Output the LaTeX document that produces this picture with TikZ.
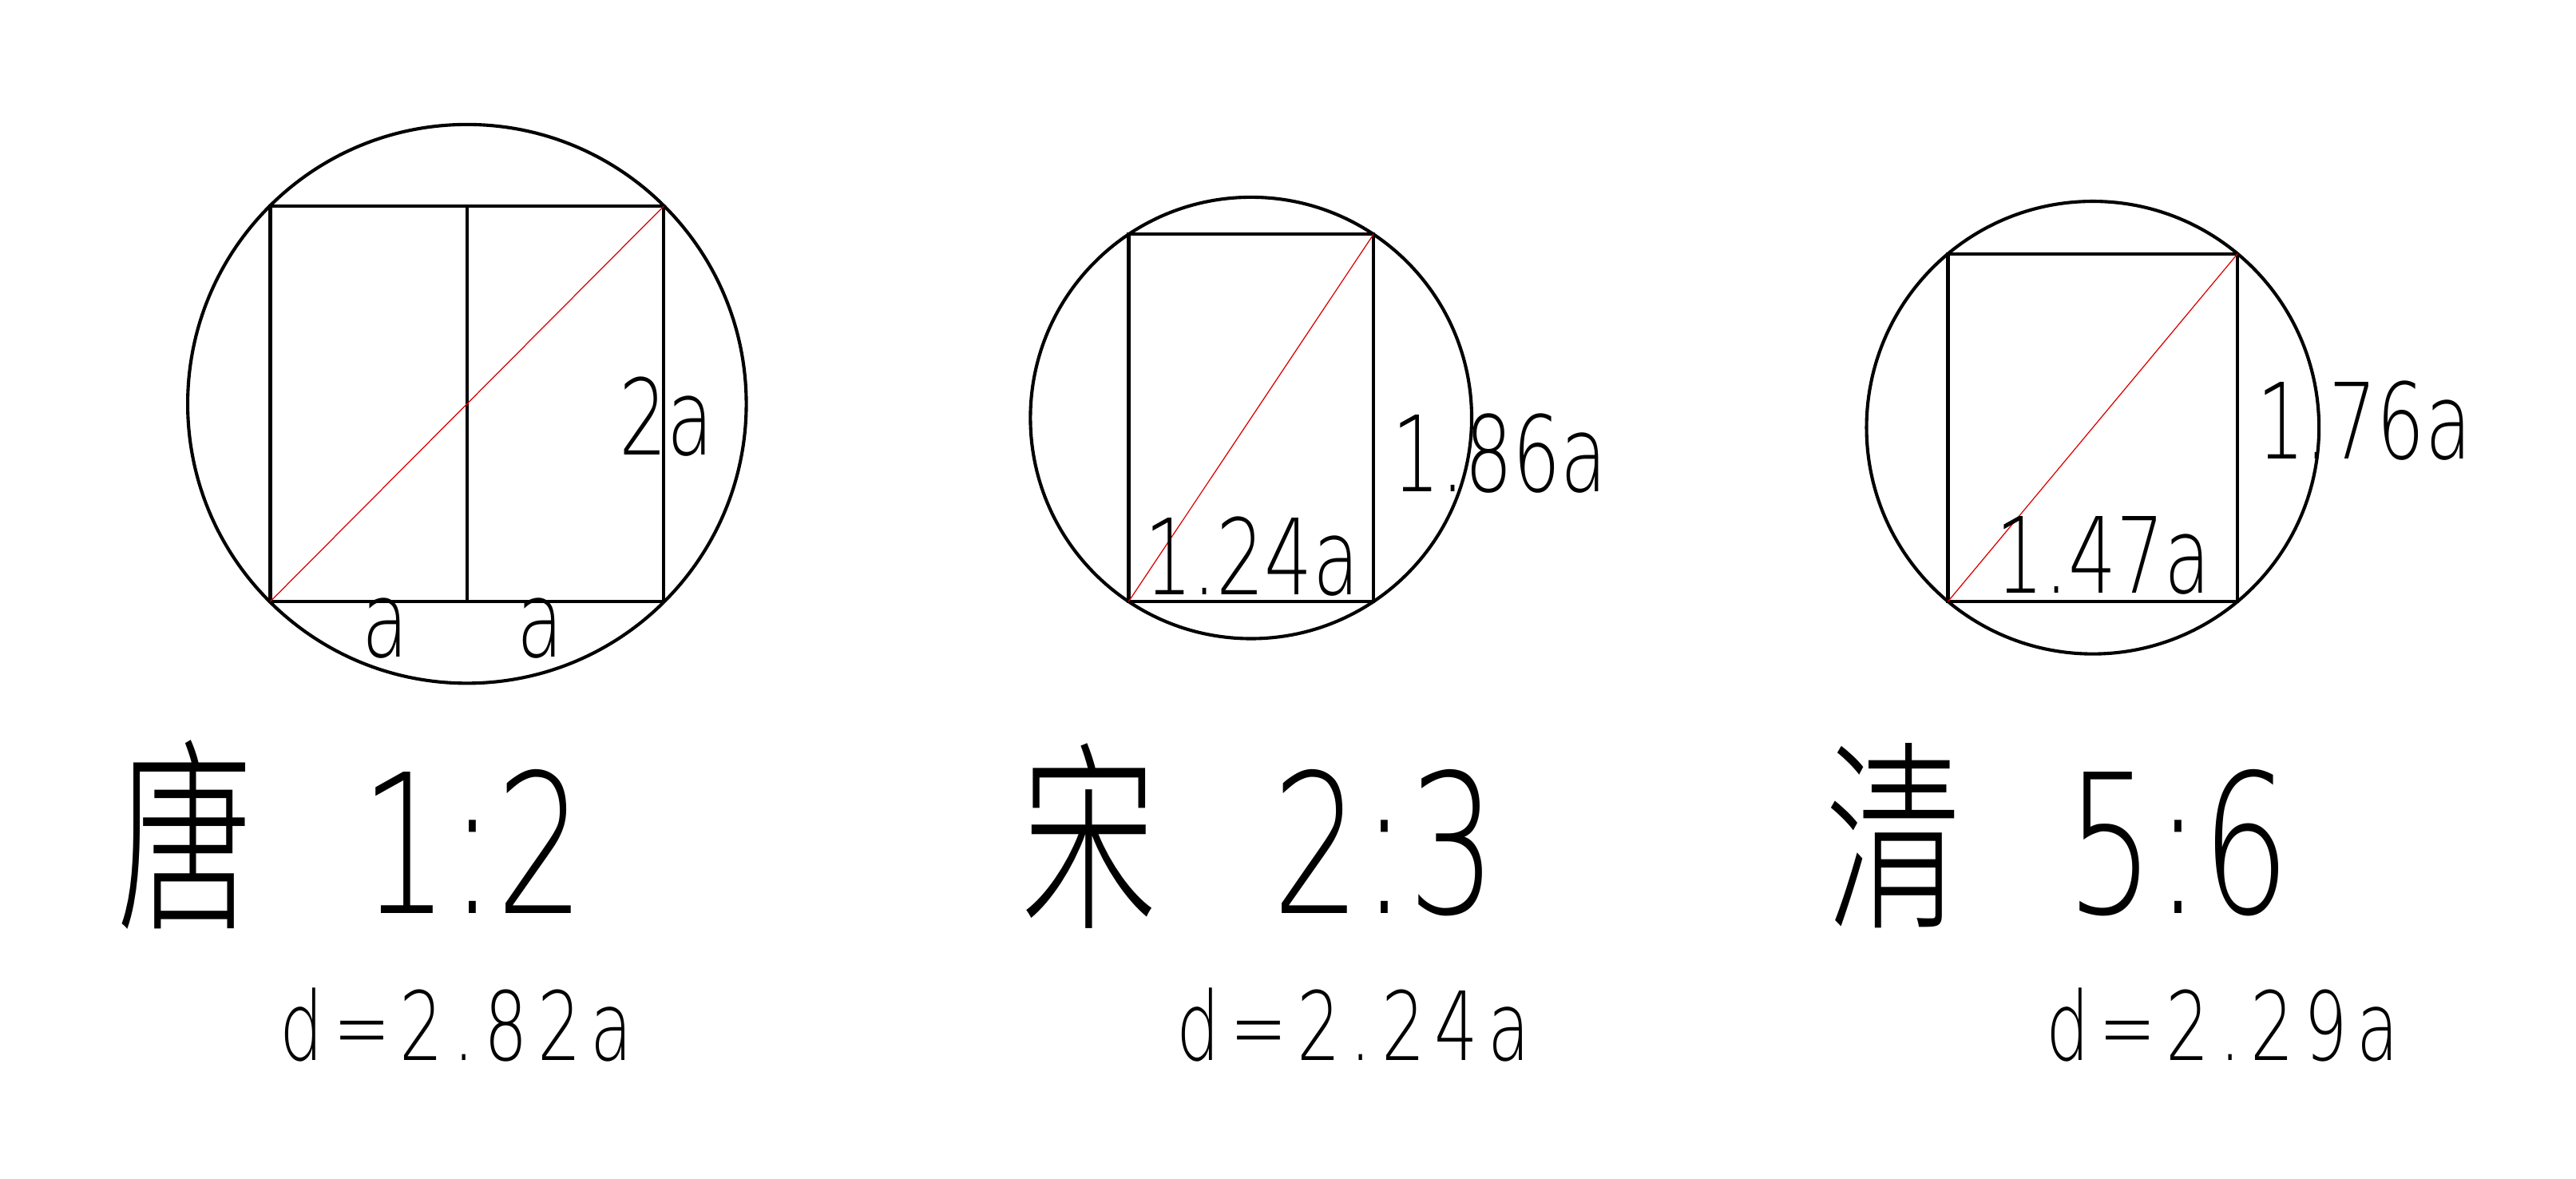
\documentclass[tikz,border=0pt]{standalone}
\usepackage{fontspec}
\usepackage{tikz}
\setmainfont{DejaVu Sans}
\newfontfamily\cadfont{DejaVu Sans ExtraLight}[FakeStretch=0.72]
\newfontfamily\cadwide{DejaVu Sans ExtraLight}[FakeStretch=0.72,LetterSpace=10]
\newfontfamily\cjkfont{Noto Sans CJK SC Light}[FakeStretch=0.67]

\begin{document}
\begin{tikzpicture}[x=0.5pt,y=-0.5pt,
	outline/.style={line width=1pt},
	diag/.style={red!85!black,line width=0.3pt},
	dimlabel/.style={inner sep=0pt,anchor=base,font=\cadfont\fontsize{32}{32}\selectfont},
	ratiolabel/.style={inner sep=0pt,anchor=base west,font=\cadfont\fontsize{59}{59}\selectfont},
	dialabel/.style={inner sep=0pt,anchor=base west,font=\cadwide\fontsize{29}{29}\selectfont}]
\useasboundingbox (0,0) rectangle (1568,717);
% Tang 1:2
\coordinate (tsw) at (164.5,366);
\coordinate (tne) at (404,125.5);
\coordinate (tc) at (284.25,245.75);
\draw[outline] (tsw) rectangle (tne);
\draw[outline] (tsw -| tc) -- (tne -| tc);
\draw[outline] (tc) circle[radius=170];
\draw[diag] (tsw) -- (tne);
\node[dimlabel] (tanga1) at (234.5,400) {a};
\node[dimlabel] (tanga2) at (329,400) {a};
\node[dimlabel] (tangh) at (405.5,277) {2a};
% Song 2:3
\coordinate (ssw) at (687,366);
\coordinate (sne) at (836,142.6);
\coordinate (sc) at (761.5,254.3);
\draw[outline] (ssw) rectangle (sne);
\draw[outline] (sc) circle[radius=134.3];
\draw[diag] (ssw) -- (sne);
\node[dimlabel] (songw) at (762,362) {1.24a};
\node[dimlabel] (songh) at (913,299) {1.86a};
% Qing 5:6
\coordinate (qsw) at (1185.7,366);
\coordinate (qne) at (1362,154.4);
\coordinate (qc) at (1273.85,260.2);
\draw[outline] (qsw) rectangle (qne);
\draw[outline] (qc) circle[radius=137.7];
\draw[diag] (qsw) -- (qne);
\node[dimlabel] (qingw) at (1280.5,361) {1.47a};
\node[dimlabel] (qingh) at (1439,279) {1.76a};
% captions
\node[ratiolabel] (tangratio) at (71,556) {{\cjkfont\fontsize{62}{62}\selectfont 唐}\hspace{32.5pt}1:2};
\node[ratiolabel] (songratio) at (621,556) {{\cjkfont\fontsize{62}{62}\selectfont 宋}\hspace{35pt}2:3};
\node[ratiolabel] (qingratio) at (1111,556) {{\cjkfont\fontsize{62}{62}\selectfont 清}\hspace{31.5pt}5:6};
\node[dialabel] (tangd) at (170,645) {d=2.82a};
\node[dialabel] (songd) at (716,645) {d=2.24a};
\node[dialabel] (qingd) at (1245,645) {d=2.29a};
\end{tikzpicture}
\end{document}
